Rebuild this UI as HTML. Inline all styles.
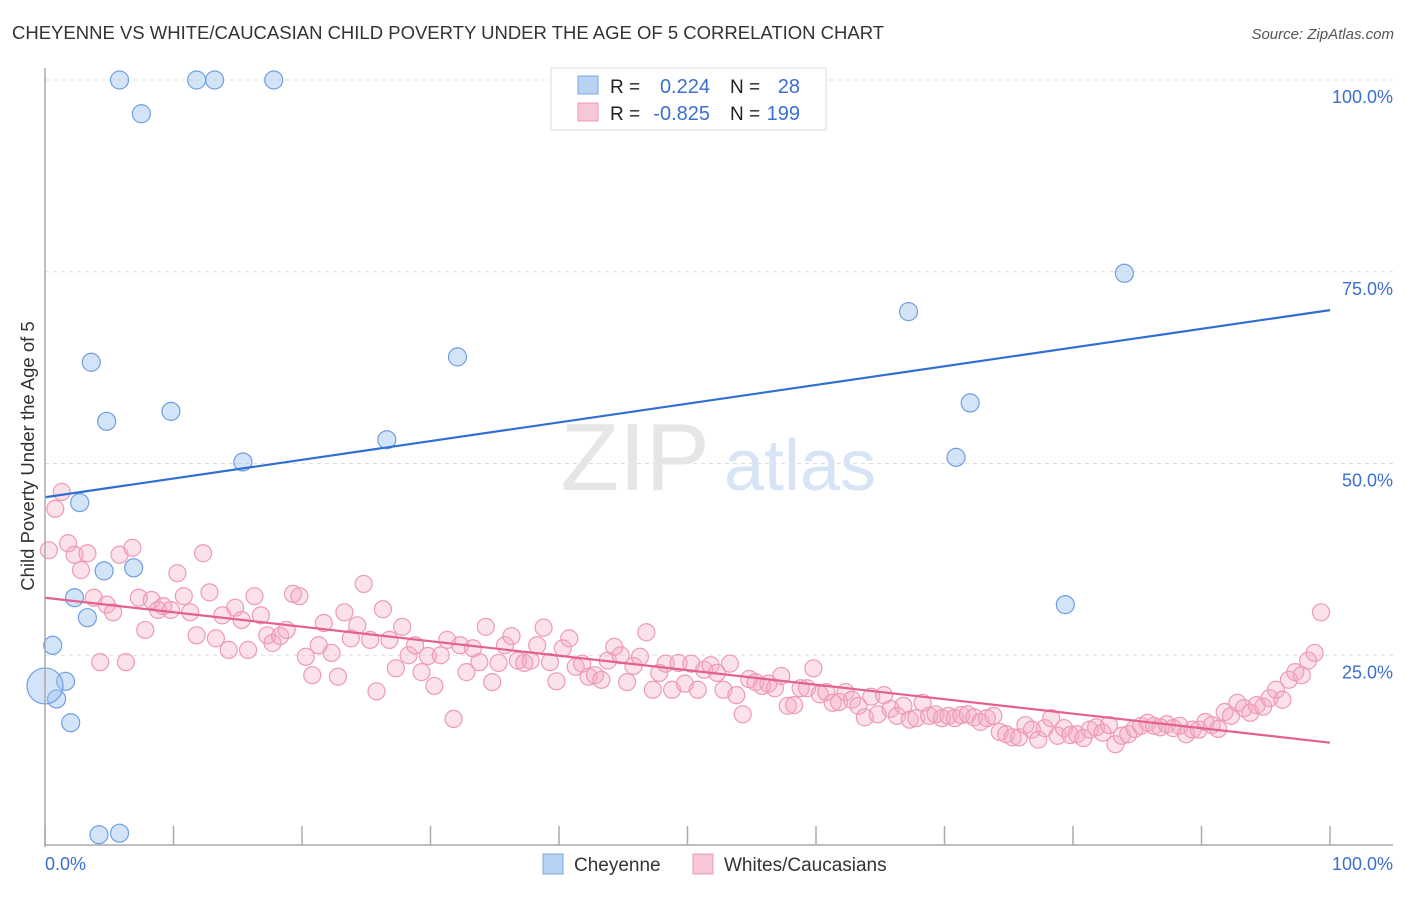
<!DOCTYPE html>
<html><head><meta charset="utf-8">
<style>
body{margin:0;background:#fff;font-family:"Liberation Sans",sans-serif;}
svg text{font-family:"Liberation Sans",sans-serif;}
</style></head>
<body>
<svg id="chart" width="1406" height="892" xmlns="http://www.w3.org/2000/svg">
<text x="12" y="39" font-size="18.5" fill="#333">CHEYENNE VS WHITE/CAUCASIAN CHILD POVERTY UNDER THE AGE OF 5 CORRELATION CHART</text>
<text x="1394" y="39" font-size="15" fill="#555" font-style="italic" text-anchor="end">Source: ZipAtlas.com</text>
<text transform="translate(34,456) rotate(-90)" font-size="18.5" fill="#333" text-anchor="middle">Child Poverty Under the Age of 5</text>
<g id="grid"></g>
<g id="watermark">
<text x="635" y="490" font-size="96" fill="#e6e6e6" font-family="Liberation Serif" text-anchor="middle">ZIP</text>
<text x="800" y="490" font-size="72" fill="#d6e4f6" text-anchor="middle">atlas</text>
</g>
<g id="pink"></g>
<g id="blue"></g>
<g id="trends"></g>
<g id="axes"></g>
<g>
<rect x="551" y="68" width="275" height="62" fill="#fff" stroke="#ddd"/>
<rect x="578" y="76" width="20" height="18" fill="#b8d2f3" stroke="#7aa8e2"/>
<rect x="578" y="103" width="20" height="18" fill="#f8c6d4" stroke="#eb9ab3"/>
<text x="610" y="93" font-size="19" fill="#222">R =</text>
<text x="710" y="93" font-size="20" fill="#3b6fd0" text-anchor="end">0.224</text>
<text x="730" y="93" font-size="19" fill="#222">N =</text>
<text x="800" y="93" font-size="20" fill="#3b6fd0" text-anchor="end">28</text>
<text x="610" y="120" font-size="19" fill="#222">R =</text>
<text x="710" y="120" font-size="20" fill="#3b6fd0" text-anchor="end">-0.825</text>
<text x="730" y="120" font-size="19" fill="#222">N =</text>
<text x="800" y="120" font-size="20" fill="#3b6fd0" text-anchor="end">199</text>
</g>
<g>
<rect x="543" y="854" width="20" height="20" fill="#b8d2f3" stroke="#7aa8e2"/>
<text x="574" y="871" font-size="19" fill="#333">Cheyenne</text>
<rect x="693" y="854" width="20" height="20" fill="#f8c6d4" stroke="#eb9ab3"/>
<text x="724" y="871" font-size="19" fill="#333">Whites/Caucasians</text>
</g>
</svg>
<script>
const yTicks=[25,50,75,100];
const yTickLabels=["25.0%","50.0%","75.0%","100.0%"];
const xTicks=[0,10,20,30,40,50,60,70,80,90,100];
const xEndLabels=["0.0%","100.0%"];
const blueX=[5.8,7.5,11.8,13.2,17.8,3.6,4.8,9.8,15.4,32.1,26.6,2.7,4.6,6.9,2.3,3.3,0.6,1.6,0.9,0.0,2.0,4.2,5.8,67.2,72.0,70.9,84.0,79.4];
const blueY=[100,95.6,100,100,100,63.2,55.5,56.8,50.2,63.9,53.1,44.9,36.0,36.4,32.5,29.9,26.3,21.6,19.3,21.0,16.2,1.6,1.8,69.8,57.9,50.8,74.8,31.6];
const blueR=[9,9,9,9,9,9,9,9,9,9,9,9,9,9,9,9,9,9,9,18,9,9,9,9,9,9,9,9];
const pinkY=[38.7,44.1,46.3,39.6,38.1,36.1,38.3,32.5,24.1,31.6,30.6,38.1,24.1,39.0,32.5,28.3,32.2,30.9,31.4,30.9,35.7,32.7,30.6,27.6,38.3,33.2,27.2,30.2,25.7,31.2,29.6,25.7,32.7,30.2,27.6,26.6,27.5,28.3,33.0,32.7,24.8,22.4,26.3,29.2,25.3,22.2,30.6,27.2,28.9,34.3,27.0,20.3,31.0,27.0,23.3,28.7,25.0,26.3,22.8,24.9,21.0,25.0,27.0,16.7,26.3,22.8,25.9,24.1,28.7,21.5,24.0,26.3,27.5,24.3,24.0,24.3,26.3,28.6,24.1,21.6,25.9,27.2,23.5,23.9,22.2,22.4,21.8,24.3,26.1,25.0,21.5,23.6,24.8,28.0,20.5,22.7,23.9,20.5,24.0,21.3,23.9,20.5,23.1,23.7,22.7,20.5,23.9,19.8,17.3,21.9,21.5,21.0,21.3,20.7,22.3,18.4,18.5,20.7,20.7,23.3,19.9,20.2,18.8,18.9,20.2,19.2,18.4,16.9,19.6,17.3,19.8,18.0,17.1,18.4,16.6,16.8,18.8,17.1,17.3,16.8,17.1,16.8,17.2,17.3,16.9,16.3,16.8,17.1,15.0,14.7,14.3,14.3,15.9,15.3,14.0,15.5,16.8,14.5,15.5,14.6,14.7,14.2,15.3,15.6,14.9,15.9,13.4,14.5,14.7,15.4,15.8,16.2,15.8,15.6,16.0,15.5,15.8,14.7,15.3,15.3,16.3,15.9,15.4,17.6,17.1,18.8,18.1,17.5,18.5,18.3,19.4,20.5,19.2,21.8,22.8,22.4,24.3,25.3,30.6];
const pinkX=[0.3,0.8,1.3,1.8,2.3,2.8,3.3,3.8,4.3,4.8,5.3,5.8,6.3,6.8,7.3,7.8,8.3,8.8,9.2,9.8,10.3,10.8,11.3,11.8,12.3,12.8,13.3,13.8,14.3,14.8,15.3,15.8,16.3,16.8,17.3,17.7,18.3,18.8,19.3,19.8,20.3,20.8,21.3,21.7,22.3,22.8,23.3,23.8,24.3,24.8,25.3,25.8,26.3,26.8,27.3,27.8,28.3,28.8,29.3,29.8,30.3,30.8,31.3,31.8,32.3,32.8,33.3,33.8,34.3,34.8,35.3,35.8,36.3,36.8,37.3,37.8,38.3,38.8,39.3,39.8,40.3,40.8,41.3,41.8,42.3,42.8,43.3,43.8,44.3,44.8,45.3,45.8,46.3,46.8,47.3,47.8,48.3,48.8,49.3,49.8,50.3,50.8,51.3,51.8,52.3,52.8,53.3,53.8,54.3,54.8,55.3,55.8,56.3,56.8,57.3,57.8,58.3,58.8,59.3,59.8,60.3,60.8,61.3,61.8,62.3,62.8,63.3,63.8,64.3,64.8,65.3,65.8,66.3,66.8,67.3,67.8,68.3,68.8,69.3,69.8,70.3,70.8,71.3,71.8,72.3,72.8,73.3,73.8,74.3,74.8,75.3,75.8,76.3,76.8,77.3,77.8,78.3,78.8,79.3,79.8,80.3,80.8,81.3,81.8,82.3,82.8,83.3,83.8,84.3,84.8,85.3,85.8,86.3,86.8,87.3,87.8,88.3,88.8,89.3,89.8,90.3,90.8,91.3,91.8,92.3,92.8,93.3,93.8,94.3,94.8,95.3,95.8,96.3,96.8,97.3,97.8,98.3,98.8,99.3];
const blueTrend=[[0,45.6],[100,70.0]];
const pinkTrend=[[0,32.5],[100,13.6]];
const NS="http://www.w3.org/2000/svg";
const X0=45,X1=1330,Y0=847,Y100=80;
function sx(v){return X0+(X1-X0)*v/100;}
function sy(v){return Y0-(Y0-Y100)*v/100;}
function mk(tag,attrs,parent){const e=document.createElementNS(NS,tag);for(const k in attrs)e.setAttribute(k,attrs[k]);parent.appendChild(e);return e;}
const grid=document.getElementById('grid');
yTicks.forEach((t,i)=>{
 const l=mk('line',{x1:X0,x2:1393,y1:sy(t),y2:sy(t),stroke:'#ddd','stroke-dasharray':'4,4'},grid);
 
 
 const tx=mk('text',{x:1393,y:sy(t)+23,'font-size':18,fill:'#3b6fd0','text-anchor':'end'},grid);
 tx.textContent=yTickLabels[i];
 
 
});
const axes=document.getElementById('axes');
mk('line',{x1:X0,x2:X0,y1:68,y2:Y0,stroke:'#aaa','stroke-width':1.5},axes);
mk('line',{x1:X0,x2:1393,y1:Y0-2,y2:Y0-2,stroke:'#aaa','stroke-width':1.5},axes);
xTicks.forEach(t=>{
 const l=mk('line',{x1:sx(t),x2:sx(t),y1:826,y2:845,stroke:'#aaa','stroke-width':1.5},axes);
 
 
});
const xl0=mk('text',{x:45,y:870,'font-size':18,fill:'#3b6fd0'},axes);xl0.textContent=xEndLabels[0];


const xl1=mk('text',{x:1393,y:870,'font-size':18,fill:'#3b6fd0','text-anchor':'end'},axes);xl1.textContent=xEndLabels[1];


const pg=document.getElementById('pink');
pinkX.forEach((x,i)=>{if(pinkY[i]===undefined)return;
 const c=mk('circle',{cx:sx(x),cy:sy(pinkY[i]),r:8.5,fill:'rgba(244,170,194,0.35)',stroke:'#ee9ab5','stroke-width':1.2},pg);
 
 
});
const bg=document.getElementById('blue');
blueX.forEach((x,i)=>{
 const c=mk('circle',{cx:sx(x),cy:sy(blueY[i]),r:blueR[i],fill:'rgba(160,196,240,0.45)',stroke:'#6d9fe0','stroke-width':1.2},bg);
 
 
});
const tg=document.getElementById('trends');
const bt=mk('line',{x1:sx(blueTrend[0][0]),y1:sy(blueTrend[0][1]),x2:sx(blueTrend[1][0]),y2:sy(blueTrend[1][1]),stroke:'#2f6fd3','stroke-width':2.2},tg);


const pt=mk('line',{x1:sx(pinkTrend[0][0]),y1:sy(pinkTrend[0][1]),x2:sx(pinkTrend[1][0]),y2:sy(pinkTrend[1][1]),stroke:'#e4618d','stroke-width':2.2},tg);


</script>
</body></html>
